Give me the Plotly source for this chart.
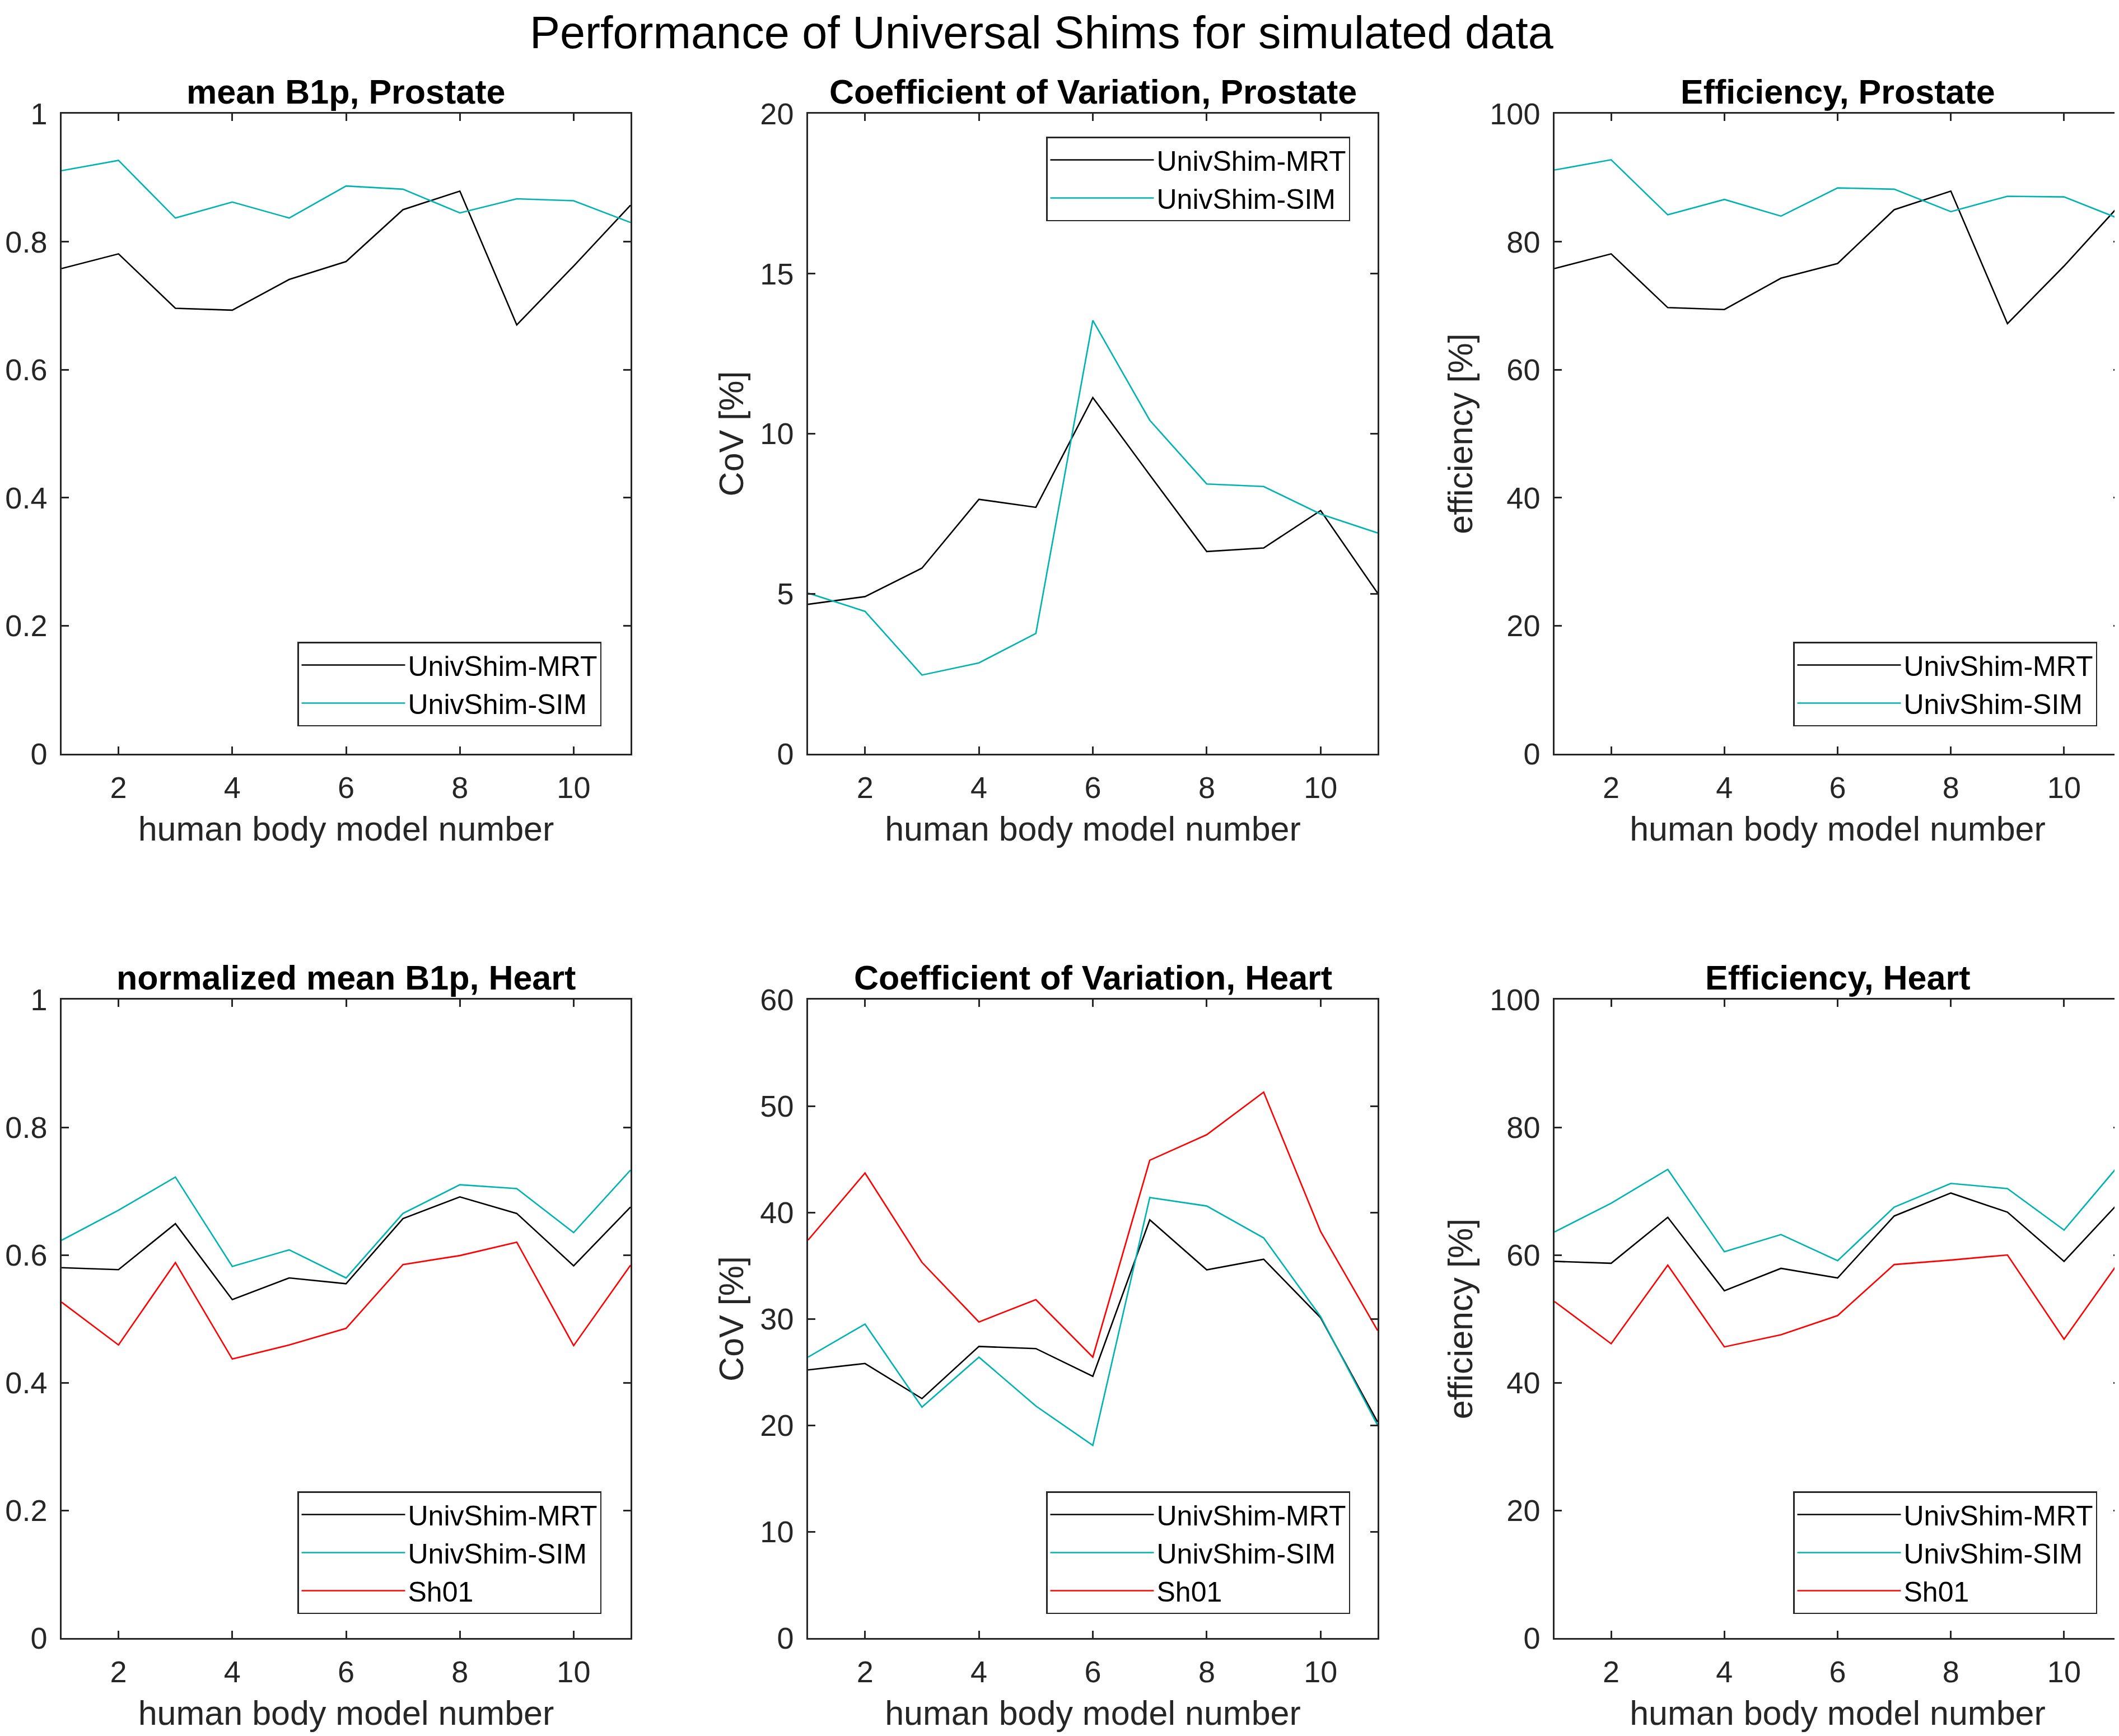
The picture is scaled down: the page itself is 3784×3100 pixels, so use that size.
import plotly.graph_objects as go

W, H = 3784, 3100

models = [1, 2, 3, 4, 5, 6, 7, 8, 9, 10, 11]

# Prostate
mean_prostate_mrt = [0.758, 0.781, 0.696, 0.693, 0.741, 0.769, 0.850, 0.879, 0.670, 0.762, 0.857]
mean_prostate_sim = [0.911, 0.927, 0.837, 0.862, 0.837, 0.887, 0.882, 0.845, 0.867, 0.864, 0.830]
cov_prostate_mrt = [4.67, 4.91, 5.80, 7.95, 7.70, 11.13, 8.71, 6.32, 6.43, 7.60, 5.02]
cov_prostate_sim = [5.02, 4.45, 2.46, 2.84, 3.76, 13.54, 10.42, 8.43, 8.35, 7.49, 6.90]
eff_prostate_mrt = [75.8, 78.1, 69.7, 69.4, 74.3, 76.6, 85.0, 87.9, 67.2, 76.2, 85.9]
eff_prostate_sim = [91.2, 92.8, 84.2, 86.6, 84.0, 88.4, 88.2, 84.7, 87.1, 87.0, 83.5]

# Heart
mean_heart_mrt = [0.580, 0.577, 0.649, 0.530, 0.564, 0.555, 0.657, 0.691, 0.665, 0.583, 0.675]
mean_heart_sim = [0.623, 0.670, 0.722, 0.582, 0.608, 0.564, 0.665, 0.710, 0.704, 0.635, 0.733]
mean_heart_sh01 = [0.526, 0.459, 0.588, 0.437, 0.459, 0.485, 0.585, 0.599, 0.620, 0.458, 0.584]
cov_heart_mrt = [25.2, 25.8, 22.5, 27.4, 27.2, 24.6, 39.3, 34.6, 35.6, 30.1, 20.3]
cov_heart_sim = [26.4, 29.5, 21.7, 26.4, 21.8, 18.1, 41.4, 40.6, 37.6, 30.2, 20.0]
cov_heart_sh01 = [37.4, 43.7, 35.3, 29.7, 31.8, 26.4, 44.9, 47.3, 51.3, 38.2, 28.9]
eff_heart_mrt = [59.0, 58.7, 65.9, 54.4, 57.9, 56.4, 66.1, 69.7, 66.7, 59.0, 68.5]
eff_heart_sim = [63.6, 68.1, 73.4, 60.5, 63.2, 59.1, 67.5, 71.2, 70.4, 63.9, 74.4]
eff_heart_sh01 = [52.7, 46.1, 58.4, 45.6, 47.5, 50.5, 58.5, 59.2, 60.0, 46.8, 59.3]

names = ["UnivShim-MRT", "UnivShim-SIM", "Sh01"]
colors = ["#000000", "#00b3b3", "#ff0000"]

panel_titles = ["mean B1p, Prostate", "Coefficient of Variation, Prostate", "Efficiency, Prostate",
                "normalized mean B1p, Heart", "Coefficient of Variation, Heart", "Efficiency, Heart"]
y_titles = ["", "CoV [%]", "efficiency [%]", "", "CoV [%]", "efficiency [%]"]
x_title = "human body model number"
main_title = "Performance of Universal Shims for simulated data"
y_ranges = [[0, 1], [0, 20], [0, 100], [0, 1], [0, 60], [0, 100]]
y_ticks = [[0, 0.2, 0.4, 0.6, 0.8, 1], [0, 5, 10, 15, 20], [0, 20, 40, 60, 80, 100],
           [0, 0.2, 0.4, 0.6, 0.8, 1], [0, 10, 20, 30, 40, 50, 60], [0, 20, 40, 60, 80, 100]]
y_ticktext = [["0", "0.2", "0.4", "0.6", "0.8", "1"], None, None,
              ["0", "0.2", "0.4", "0.6", "0.8", "1"], None, None]
x_ticks = [2, 4, 6, 8, 10]

panel_series = [
    [mean_prostate_mrt, mean_prostate_sim],
    [cov_prostate_mrt, cov_prostate_sim],
    [eff_prostate_mrt, eff_prostate_sim],
    [mean_heart_mrt, mean_heart_sim, mean_heart_sh01],
    [cov_heart_mrt, cov_heart_sim, cov_heart_sh01],
    [eff_heart_mrt, eff_heart_sim, eff_heart_sh01],
]

# layout geometry (page pixels; the page adds a small vertical offset)
OFFX, OFFY = 0, 8
col_x = [(102, 1118), (1435, 2452), (2768, 3779)]
row_y = [(203, 1346), (1785, 2925)]
legend_pos = [  # right px, edge px, yanchor
    (1066, 1297, "bottom"), (2403, 244, "top"), (3737, 1297, "bottom"),
    (1066, 2882, "bottom"), (2403, 2882, "bottom"), (3737, 2882, "bottom"),
]


def px(v):
    return (v - OFFX) / W


def py(v):
    return 1 - (v - OFFY) / H


FONT = "Liberation Sans, Arial, Helvetica, sans-serif"
AX = "#262626"
fig = go.Figure()
layout = dict(width=W, height=H, margin=dict(l=0, r=0, t=0, b=0, pad=0, autoexpand=False),
              paper_bgcolor="white", plot_bgcolor="white", font=dict(family=FONT, color=AX))
annotations = []

for i in range(6):
    r, c = divmod(i, 3)
    xa = "xaxis" if i == 0 else f"xaxis{i+1}"
    ya = "yaxis" if i == 0 else f"yaxis{i+1}"
    xref = "x" if i == 0 else f"x{i+1}"
    yref = "y" if i == 0 else f"y{i+1}"
    leg = "legend" if i == 0 else f"legend{i+1}"
    x0, x1 = col_x[c]
    t0, t1 = row_y[r]
    common = dict(showline=True, linecolor=AX, linewidth=2.5, mirror="ticks", ticks="inside",
                  ticklen=13, tickwidth=2.5, tickcolor=AX, showgrid=False, zeroline=False,
                  automargin=False, tickfont=dict(size=54, color=AX, family=FONT))
    layout[xa] = dict(common, domain=[px(x0), px(x1)], anchor=yref, range=[1, 11],
                      tickvals=x_ticks, ticklabelstandoff=11,
                      title=dict(text=x_title, font=dict(size=61, color=AX), standoff=24))
    yd = dict(common, domain=[py(t1), py(t0)], anchor=xref, range=y_ranges[i],
              tickvals=y_ticks[i], ticklabelstandoff=12)
    if y_ticktext[i]:
        yd["ticktext"] = y_ticktext[i]
    if y_titles[i]:
        yd["title"] = dict(text=y_titles[i], font=dict(size=61, color=AX), standoff=11)
    layout[ya] = yd
    for k, ser in enumerate(panel_series[i]):
        fig.add_trace(go.Scatter(x=models, y=ser, mode="lines", name=names[k],
                                 line=dict(color=colors[k], width=2.6),
                                 xaxis=xref, yaxis=yref, legend=leg))
    lx, ly, yanc = legend_pos[i]
    layout[leg] = dict(x=px(lx), y=py(ly), xanchor="right", yanchor=yanc,
                       xref="paper", yref="paper",
                       bgcolor="white", bordercolor=AX, borderwidth=2.5,
                       font=dict(size=50, color="#000000", family=FONT),
                       itemwidth=185, tracegroupgap=0, traceorder="normal")
    annotations.append(dict(text="<b>" + panel_titles[i] + "</b>", x=px((x0 + x1) / 2),
                            y=py(t0 - 39), xref="paper", yref="paper",
                            xanchor="center", yanchor="middle", showarrow=False,
                            font=dict(size=61, color="#000000", family=FONT)))

annotations.append(dict(text=main_title,
                        x=px(1852), y=py(58), xref="paper", yref="paper",
                        xanchor="center", yanchor="middle", showarrow=False,
                        font=dict(size=81, color="#000000", family=FONT)))
layout["annotations"] = annotations
fig.update_layout(**layout)
fig.write_html("out.html")
